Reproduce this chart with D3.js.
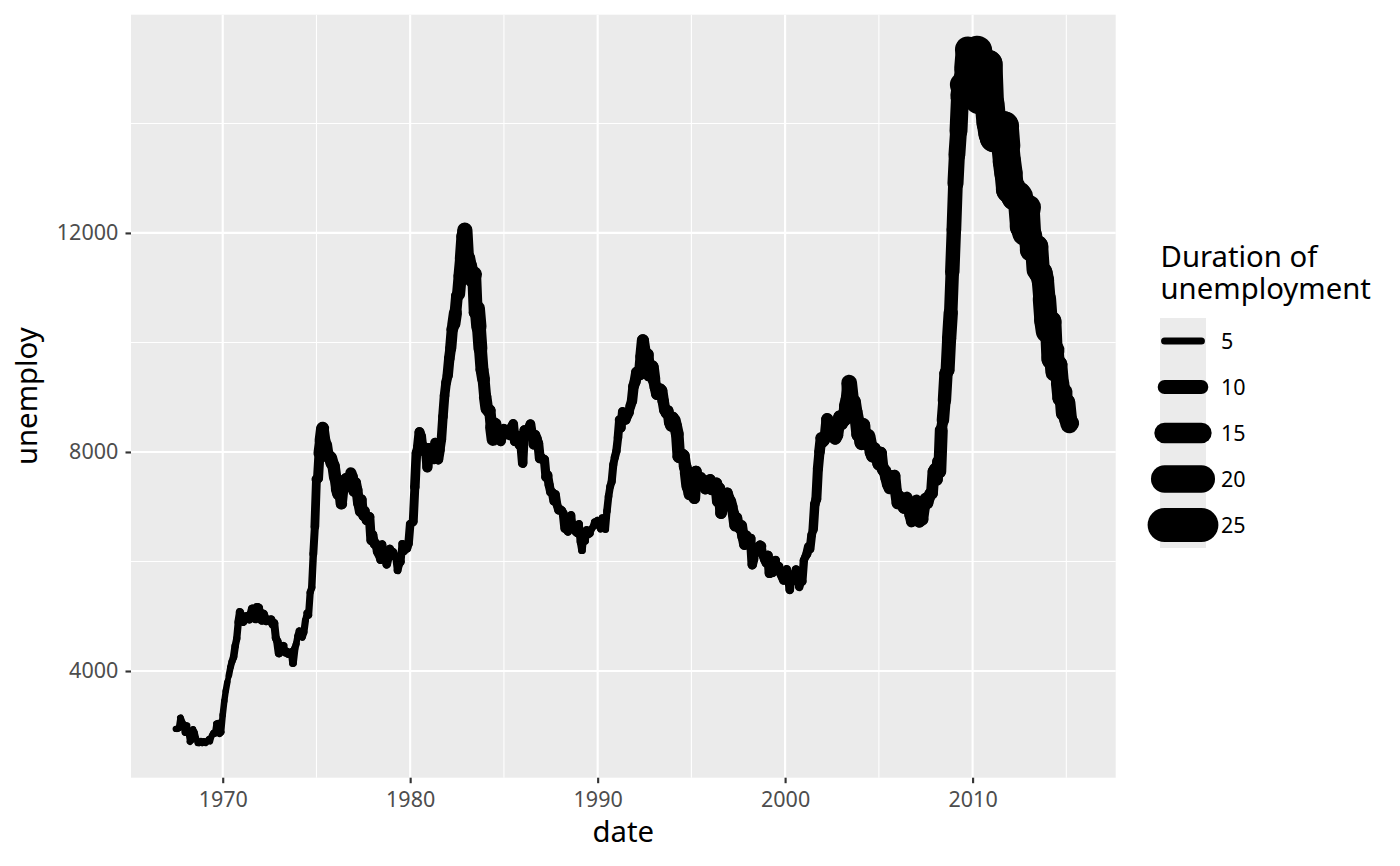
<!DOCTYPE html>
<html>
<head>
<meta charset="utf-8">
<script src="https://cdn.jsdelivr.net/npm/d3@7"></script>
<style>
  body { margin: 0; background: #fff; }
  svg { display: block; }
  text { font-family: "Noto Sans", "Open Sans", sans-serif; }
</style>
</head>
<body>
<svg id="chart" width="1400" height="866"></svg>
<script>
// ---- DATA (monthly, starting 1967-07) ----
const startMonth = "1967-07-01";

const unemploy = [
  2944, 2945, 2958, 3143, 3066, 3018,
  2878, 3001, 2877, 2709, 2740, 2938, 2883, 2768, 2686, 2689, 2715, 2685,
  2718, 2692, 2712, 2758, 2713, 2816, 2868, 2856, 3040, 3049, 2856, 2884,
  3201, 3453, 3635, 3797, 3919, 4071, 4175, 4256, 4456, 4591, 4898, 5076,
  4986, 4903, 4987, 4959, 4996, 4949, 5035, 5134, 5042, 4954, 5161, 5154,
  5019, 4928, 5038, 4959, 4922, 4923, 4913, 4939, 4849, 4875, 4602, 4543,
  4326, 4452, 4394, 4459, 4329, 4363, 4305, 4305, 4350, 4144, 4396, 4489,
  4644, 4731, 4634, 4618, 4705, 4927, 5063, 5022, 5437, 5523, 6140, 6636,
  7501, 7520, 7978, 8210, 8433, 8220, 8127, 7928, 7923, 7897, 7794, 7744,
  7534, 7326, 7230, 7330, 7053, 7322, 7490, 7518, 7380, 7430, 7620, 7545,
  7280, 7443, 7307, 7059, 6911, 7134, 6829, 6925, 6751, 6763, 6815, 6386,
  6489, 6318, 6337, 6180, 6127, 6028, 6309, 6080, 6125, 5947, 6077, 6228,
  6109, 6173, 6109, 6069, 5840, 5959, 5996, 6320, 6190, 6296, 6238, 6325,
  6683, 6702, 6729, 7358, 7984, 8098, 8363, 8281, 8021, 8088, 8023, 7718,
  8071, 8051, 7982, 7869, 8174, 8098, 7863, 8036, 8230, 8646, 9029, 9267,
  9397, 9705, 9895, 10244, 10335, 10538, 10849, 10881, 11217, 11529, 11938, 12051,
  11534, 11545, 11408, 11268, 11154, 11246, 10548, 10623, 10282, 9887, 9499, 9331,
  9008, 8791, 8746, 8762, 8456, 8226, 8537, 8519, 8367, 8381, 8198, 8358,
  8423, 8321, 8339, 8395, 8302, 8460, 8513, 8196, 8248, 8298, 8128, 8138,
  7795, 8402, 8383, 8364, 8439, 8508, 8319, 8135, 8310, 8243, 8159, 7883,
  7892, 7865, 7862, 7542, 7574, 7398, 7268, 7261, 7102, 7227, 7035, 6936,
  6953, 6929, 6876, 6601, 6779, 6546, 6605, 6843, 6604, 6568, 6537, 6518,
  6682, 6359, 6205, 6468, 6375, 6577, 6495, 6511, 6590, 6630, 6725, 6667,
  6752, 6651, 6598, 6797, 6742, 6590, 6922, 7188, 7368, 7459, 7764, 7901,
  8015, 8265, 8586, 8439, 8736, 8692, 8586, 8666, 8722, 8842, 8931, 9198,
  9283, 9454, 9460, 9415, 9744, 10040, 9850, 9787, 9781, 9398, 9565, 9557,
  9325, 9183, 9056, 9110, 9149, 9121, 8930, 8763, 8714, 8750, 8542, 8477,
  8630, 8583, 8470, 8331, 7915, 7927, 7946, 7933, 7734, 7632, 7375, 7230,
  7375, 7187, 7153, 7645, 7430, 7427, 7527, 7484, 7478, 7328, 7426, 7423,
  7491, 7313, 7318, 7415, 7423, 7095, 7337, 6882, 6979, 7031, 7236, 7253,
  7158, 7102, 7000, 6873, 6655, 6799, 6655, 6608, 6656, 6454, 6308, 6476,
  6368, 6306, 6422, 5941, 6047, 6212, 6259, 6179, 6300, 6280, 6100, 6032,
  5976, 6111, 5783, 6004, 5796, 5951, 6025, 5838, 5915, 5778, 5716, 5653,
  5708, 5858, 5733, 5481, 5758, 5651, 5747, 5853, 5625, 5534, 5639, 5634,
  6023, 6089, 6141, 6271, 6226, 6484, 6583, 7042, 7142, 7694, 8003, 8258,
  8182, 8215, 8304, 8599, 8399, 8393, 8390, 8304, 8251, 8307, 8520, 8640,
  8520, 8618, 8588, 8842, 8957, 9266, 9011, 8896, 8921, 8732, 8576, 8317,
  8370, 8167, 8491, 8170, 8212, 8286, 8136, 7990, 7927, 8061, 7932, 7934,
  7784, 7980, 7737, 7672, 7651, 7524, 7406, 7345, 7553, 7453, 7566, 7279,
  7064, 7184, 7072, 7120, 6980, 7001, 7175, 7091, 6847, 6727, 6872, 6762,
  7116, 6927, 6731, 6850, 6766, 6979, 7149, 7067, 7170, 7237, 7240, 7645,
  7685, 7497, 7822, 7637, 8395, 8575, 8937, 9438, 9494, 10074, 10538, 11286,
  12058, 12898, 13426, 13853, 14499, 14707, 14601, 14814, 15009, 15352, 15219, 15098,
  15046, 15113, 15202, 15325, 14849, 14474, 14512, 14648, 14579, 14516, 15081, 14348,
  14013, 13820, 13737, 13957, 13855, 13962, 13763, 13818, 13948, 13594, 13302, 13093,
  12797, 12813, 12713, 12646, 12660, 12692, 12656, 12471, 12115, 12124, 12005, 12298,
  12471, 11950, 11689, 11760, 11654, 11751, 11335, 11279, 11270, 11136, 10787, 10404,
  10202, 10349, 10380, 9702, 9859, 9460, 9608, 9599, 9262, 8990, 9090, 8717,
  8903, 8610, 8504, 8526
];

const uempmed = [
  4.5, 4.7, 4.6, 4.9, 4.7, 4.8,
  5.1, 4.5, 4.1, 4.6, 4.4, 4.4, 4.5, 4.2, 4.6, 4.8, 4.4, 4.4,
  4.4, 4.9, 4.0, 4.0, 4.2, 4.4, 4.4, 4.4, 4.7, 4.5, 4.8, 4.6,
  4.6, 4.5, 4.6, 4.1, 4.7, 4.9, 5.1, 5.4, 5.2, 5.2, 5.6, 5.9,
  6.2, 6.3, 6.4, 6.5, 6.7, 5.7, 6.2, 6.4, 5.8, 6.5, 6.4, 6.2,
  6.2, 6.6, 6.6, 6.7, 6.6, 5.4, 6.1, 6.0, 5.6, 5.7, 5.7, 6.1,
  5.7, 5.2, 5.5, 5.0, 4.9, 5.0, 5.2, 4.9, 5.4, 5.5, 5.1, 4.7,
  5.0, 5.1, 4.8, 5.0, 5.1, 4.7, 5.0, 5.1, 5.1, 5.3, 5.7, 6.3,
  7.1, 7.2, 8.7, 9.4, 8.8, 8.6, 9.2, 9.2, 8.6, 9.5, 9.0, 9.0,
  8.2, 8.7, 8.2, 8.3, 7.8, 7.7, 7.8, 7.8, 8.6, 6.8, 8.0, 7.8,
  7.8, 7.8, 7.9, 7.5, 7.1, 6.9, 6.8, 6.9, 6.6, 6.9, 6.8, 6.5,
  6.7, 6.2, 6.3, 6.4, 5.9, 5.9, 6.4, 6.4, 5.9, 6.2, 6.0, 6.3,
  6.0, 5.9, 5.9, 5.4, 5.6, 5.9, 5.5, 5.6, 5.9, 5.9, 6.0, 6.1,
  5.8, 5.7, 6.4, 6.9, 6.6, 7.1, 7.2, 7.1, 7.4, 7.2, 7.0, 7.4,
  6.9, 7.1, 7.4, 6.9, 6.6, 7.1, 7.2, 6.8, 6.8, 6.9, 6.9, 7.1,
  7.5, 7.7, 8.1, 8.5, 9.5, 8.5, 8.7, 9.5, 9.7, 10.0, 10.2, 11.1,
  9.8, 10.4, 10.9, 12.3, 11.3, 10.1, 10.1, 11.1, 10.1, 9.4, 9.3, 8.7,
  9.1, 8.3, 8.3, 8.2, 9.1, 7.5, 7.5, 7.3, 7.6, 7.2, 7.2, 7.3,
  6.8, 7.1, 7.1, 6.9, 6.9, 6.6, 6.9, 7.1, 6.9, 7.1, 7.0, 6.8,
  6.7, 6.9, 6.8, 6.7, 6.8, 7.0, 6.9, 7.1, 7.4, 7.0, 7.1, 7.1,
  6.9, 6.6, 6.6, 7.1, 6.6, 6.5, 6.5, 6.4, 6.0, 6.3, 6.2, 6.0,
  6.2, 6.3, 6.4, 5.9, 5.9, 5.8, 6.1, 5.9, 5.7, 5.6, 5.7, 5.9,
  5.6, 5.4, 5.4, 5.4, 5.3, 5.4, 5.6, 5.0, 4.9, 4.9, 4.8, 4.9,
  5.1, 5.3, 5.1, 4.8, 5.2, 5.2, 5.4, 5.4, 5.6, 5.8, 5.7, 5.9,
  6.0, 6.2, 6.7, 6.6, 6.4, 6.9, 7.0, 7.3, 6.8, 7.2, 7.5, 7.8,
  8.1, 8.2, 8.3, 8.5, 8.8, 8.7, 8.6, 8.8, 8.6, 9.0, 9.0, 9.3,
  8.6, 8.5, 8.5, 8.4, 8.1, 8.3, 8.2, 8.2, 8.3, 8.0, 8.3, 8.3,
  8.6, 9.2, 9.3, 9.1, 9.2, 9.3, 9.0, 8.9, 9.2, 10.0, 9.0, 8.7,
  8.0, 8.1, 8.3, 8.3, 9.1, 7.9, 8.5, 8.3, 7.9, 8.2, 8.0, 8.3,
  8.3, 7.8, 8.3, 8.6, 8.6, 8.3, 8.3, 8.4, 8.5, 8.3, 7.7, 7.8,
  7.8, 8.1, 7.9, 8.3, 8.0, 8.0, 8.3, 7.8, 8.2, 7.7, 7.6, 7.5,
  7.4, 7.0, 6.8, 6.7, 6.0, 6.9, 6.7, 6.8, 6.7, 5.8, 6.6, 6.8,
  6.9, 6.8, 6.8, 6.2, 6.5, 6.3, 5.8, 6.5, 6.0, 6.1, 6.2, 5.8,
  5.8, 6.1, 6.0, 6.1, 5.8, 5.7, 6.0, 6.3, 5.2, 6.1, 6.1, 6.0,
  5.8, 6.1, 6.6, 5.9, 6.3, 6.0, 6.8, 6.9, 7.2, 7.3, 7.7, 8.2,
  8.4, 8.3, 8.4, 8.9, 9.5, 11.0, 8.9, 9.0, 9.5, 9.6, 9.3, 9.6,
  9.6, 9.5, 9.7, 10.2, 9.9, 11.5, 10.3, 10.1, 10.2, 10.4, 10.3, 10.4,
  10.6, 10.2, 10.2, 9.5, 9.9, 11.0, 8.9, 9.2, 9.6, 9.5, 9.7, 9.5,
  9.4, 9.2, 9.3, 9.0, 9.1, 9.0, 8.8, 9.2, 8.4, 8.6, 8.5, 8.7,
  8.6, 9.1, 8.7, 8.4, 8.5, 7.3, 8.0, 8.4, 8.0, 7.9, 8.3, 7.5,
  8.3, 8.5, 9.1, 8.6, 8.2, 7.7, 8.7, 8.8, 8.7, 8.4, 8.6, 8.4,
  9.0, 8.7, 8.7, 9.4, 7.9, 9.0, 9.7, 9.7, 10.2, 10.4, 9.8, 10.5,
  10.7, 11.7, 12.3, 13.1, 14.2, 17.2, 16.0, 16.3, 17.8, 18.9, 19.8, 20.1,
  20.0, 19.9, 20.4, 22.1, 22.3, 25.2, 22.3, 21.0, 20.3, 21.2, 21.0, 21.9,
  21.5, 21.1, 21.5, 20.9, 21.6, 22.3, 22.0, 22.4, 22.0, 20.6, 20.8, 20.5,
  20.8, 19.7, 19.2, 19.1, 19.9, 20.4, 17.5, 18.4, 18.8, 19.9, 18.6, 17.7,
  15.8, 17.2, 17.6, 17.1, 17.1, 17.0, 16.2, 16.5, 16.5, 16.3, 17.1, 17.3,
  15.4, 15.9, 15.8, 15.7, 14.6, 13.8, 13.1, 12.9, 13.4, 13.6, 13.0, 12.9,
  13.2, 12.9, 12.0, 11.5
];

const xTickYears = [1970, 1980, 1990, 2000, 2010];
const xMinorYears = [1975, 1985, 1995, 2005, 2015];
const yTicks = [4000, 8000, 12000];
const yMinor = [6000, 10000, 14000];
const legendValues = [5, 10, 15, 20, 25];
const legendTitle = ["Duration of", "unemployment"];
const xTitle = "date";
const yTitle = "unemploy";

// ---- build rows ----
const parse = d3.utcParse("%Y-%m-%d");
const start = parse(startMonth);
const rows = unemploy.map((u, i) => ({
  date: d3.utcMonth.offset(start, i),
  unemploy: u,
  uempmed: uempmed[i]
}));

// ---- layout ----
const panel = { left: 131, top: 14.7, right: 1115.7, bottom: 777.7 };
const tickFont = "21.5px";
const titleFont = "29.3px";
const svg = d3.select("#chart");

function expand(ext, f) {
  const span = ext[1] - ext[0];
  return [ext[0] - span * f, ext[1] + span * f];
}

const xExt = d3.extent(rows, d => +d.date);
const xDom = expand(xExt, 0.05);
const x = d3.scaleUtc().domain([new Date(xDom[0]), new Date(xDom[1])]).range([panel.left, panel.right]);

const yDom = expand(d3.extent(rows, d => d.unemploy), 0.05);
const y = d3.scaleLinear().domain(yDom).range([panel.bottom, panel.top]);

const pxPerMm = 5.71;
const w = d3.scaleLinear().domain(d3.extent(rows, d => d.uempmed)).range([1 * pxPerMm, 6 * pxPerMm]);

// panel background
svg.append("rect")
  .attr("x", panel.left).attr("y", panel.top)
  .attr("width", panel.right - panel.left).attr("height", panel.bottom - panel.top)
  .attr("fill", "#EBEBEB");

const grid = svg.append("g");
// minor grid
grid.selectAll(".ymin").data(yMinor).join("line")
  .attr("x1", panel.left).attr("x2", panel.right)
  .attr("y1", d => y(d)).attr("y2", d => y(d))
  .attr("stroke", "#fff").attr("stroke-width", 1.07);
grid.selectAll(".xmin").data(xMinorYears).join("line")
  .attr("y1", panel.top).attr("y2", panel.bottom)
  .attr("x1", d => x(Date.UTC(d, 0, 1))).attr("x2", d => x(Date.UTC(d, 0, 1)))
  .attr("stroke", "#fff").attr("stroke-width", 1.07);
// major grid
grid.selectAll(".ymaj").data(yTicks).join("line")
  .attr("x1", panel.left).attr("x2", panel.right)
  .attr("y1", d => y(d)).attr("y2", d => y(d))
  .attr("stroke", "#fff").attr("stroke-width", 2.13);
grid.selectAll(".xmaj").data(xTickYears).join("line")
  .attr("y1", panel.top).attr("y2", panel.bottom)
  .attr("x1", d => x(Date.UTC(d, 0, 1))).attr("x2", d => x(Date.UTC(d, 0, 1)))
  .attr("stroke", "#fff").attr("stroke-width", 2.13);

// data line: segments with varying width
const segs = d3.pairs(rows);
svg.append("g")
  .selectAll("line").data(segs).join("line")
  .attr("x1", d => x(d[0].date)).attr("y1", d => y(d[0].unemploy))
  .attr("x2", d => x(d[1].date)).attr("y2", d => y(d[1].unemploy))
  .attr("stroke", "#000")
  .attr("stroke-width", d => w(d[0].uempmed))
  .attr("stroke-linecap", "round");

// axes
const xAxis = d3.axisBottom(x)
  .tickValues(xTickYears.map(yr => new Date(Date.UTC(yr, 0, 1))))
  .tickFormat(d3.utcFormat("%Y"))
  .tickSize(5.5).tickPadding(4.5);
const gx = svg.append("g").attr("transform", `translate(0,${panel.bottom})`).call(xAxis);
gx.select(".domain").remove();
gx.selectAll(".tick line").attr("stroke", "#333333").attr("stroke-width", 2.13);
gx.selectAll(".tick text").attr("fill", "#4D4D4D").style("font-size", tickFont)
  .attr("font-family", null).attr("y", 29.6).attr("dy", null);

const yAxis = d3.axisLeft(y).tickValues(yTicks).tickFormat(d3.format("d")).tickSize(5.5).tickPadding(7.2);
const gy = svg.append("g").attr("transform", `translate(${panel.left},0)`).call(yAxis);
gy.select(".domain").remove();
gy.selectAll(".tick line").attr("stroke", "#333333").attr("stroke-width", 2.13);
gy.selectAll(".tick text").attr("fill", "#4D4D4D").style("font-size", tickFont).attr("font-family", null);

// axis titles
svg.append("text")
  .attr("x", (panel.left + panel.right) / 2).attr("y", 842.3)
  .attr("text-anchor", "middle").style("font-size", titleFont).attr("fill", "#000")
  .text(xTitle);
svg.append("text")
  .attr("transform", `translate(36.5,${(panel.top + panel.bottom) / 2}) rotate(-90)`)
  .attr("text-anchor", "middle").style("font-size", titleFont).attr("fill", "#000")
  .text(yTitle);

// legend
const leg = svg.append("g");
leg.selectAll("text.title").data(legendTitle).join("text")
  .attr("class", "title")
  .attr("x", 1160.5).attr("y", (d, i) => 266.7 + i * 32.5)
  .style("font-size", titleFont).attr("fill", "#000")
  .text(d => d);

const keyTop = 318, keyH = 46, keyX = 1160, keyW = 46;
leg.append("rect")
  .attr("x", keyX).attr("y", keyTop).attr("width", keyW).attr("height", keyH * legendValues.length)
  .attr("fill", "#EBEBEB");
leg.selectAll("line.key").data(legendValues).join("line")
  .attr("class", "key")
  .attr("x1", keyX + keyW * 0.1).attr("x2", keyX + keyW * 0.9)
  .attr("y1", (d, i) => keyTop + keyH * (i + 0.5)).attr("y2", (d, i) => keyTop + keyH * (i + 0.5))
  .attr("stroke", "#000").attr("stroke-width", d => w(d)).attr("stroke-linecap", "round");
leg.selectAll("text.lab").data(legendValues).join("text")
  .attr("class", "lab")
  .attr("x", 1221).attr("y", (d, i) => keyTop + keyH * (i + 0.5))
  .attr("dy", "0.36em")
  .style("font-size", tickFont).attr("fill", "#000")
  .text(d => d);
</script>
</body>
</html>
